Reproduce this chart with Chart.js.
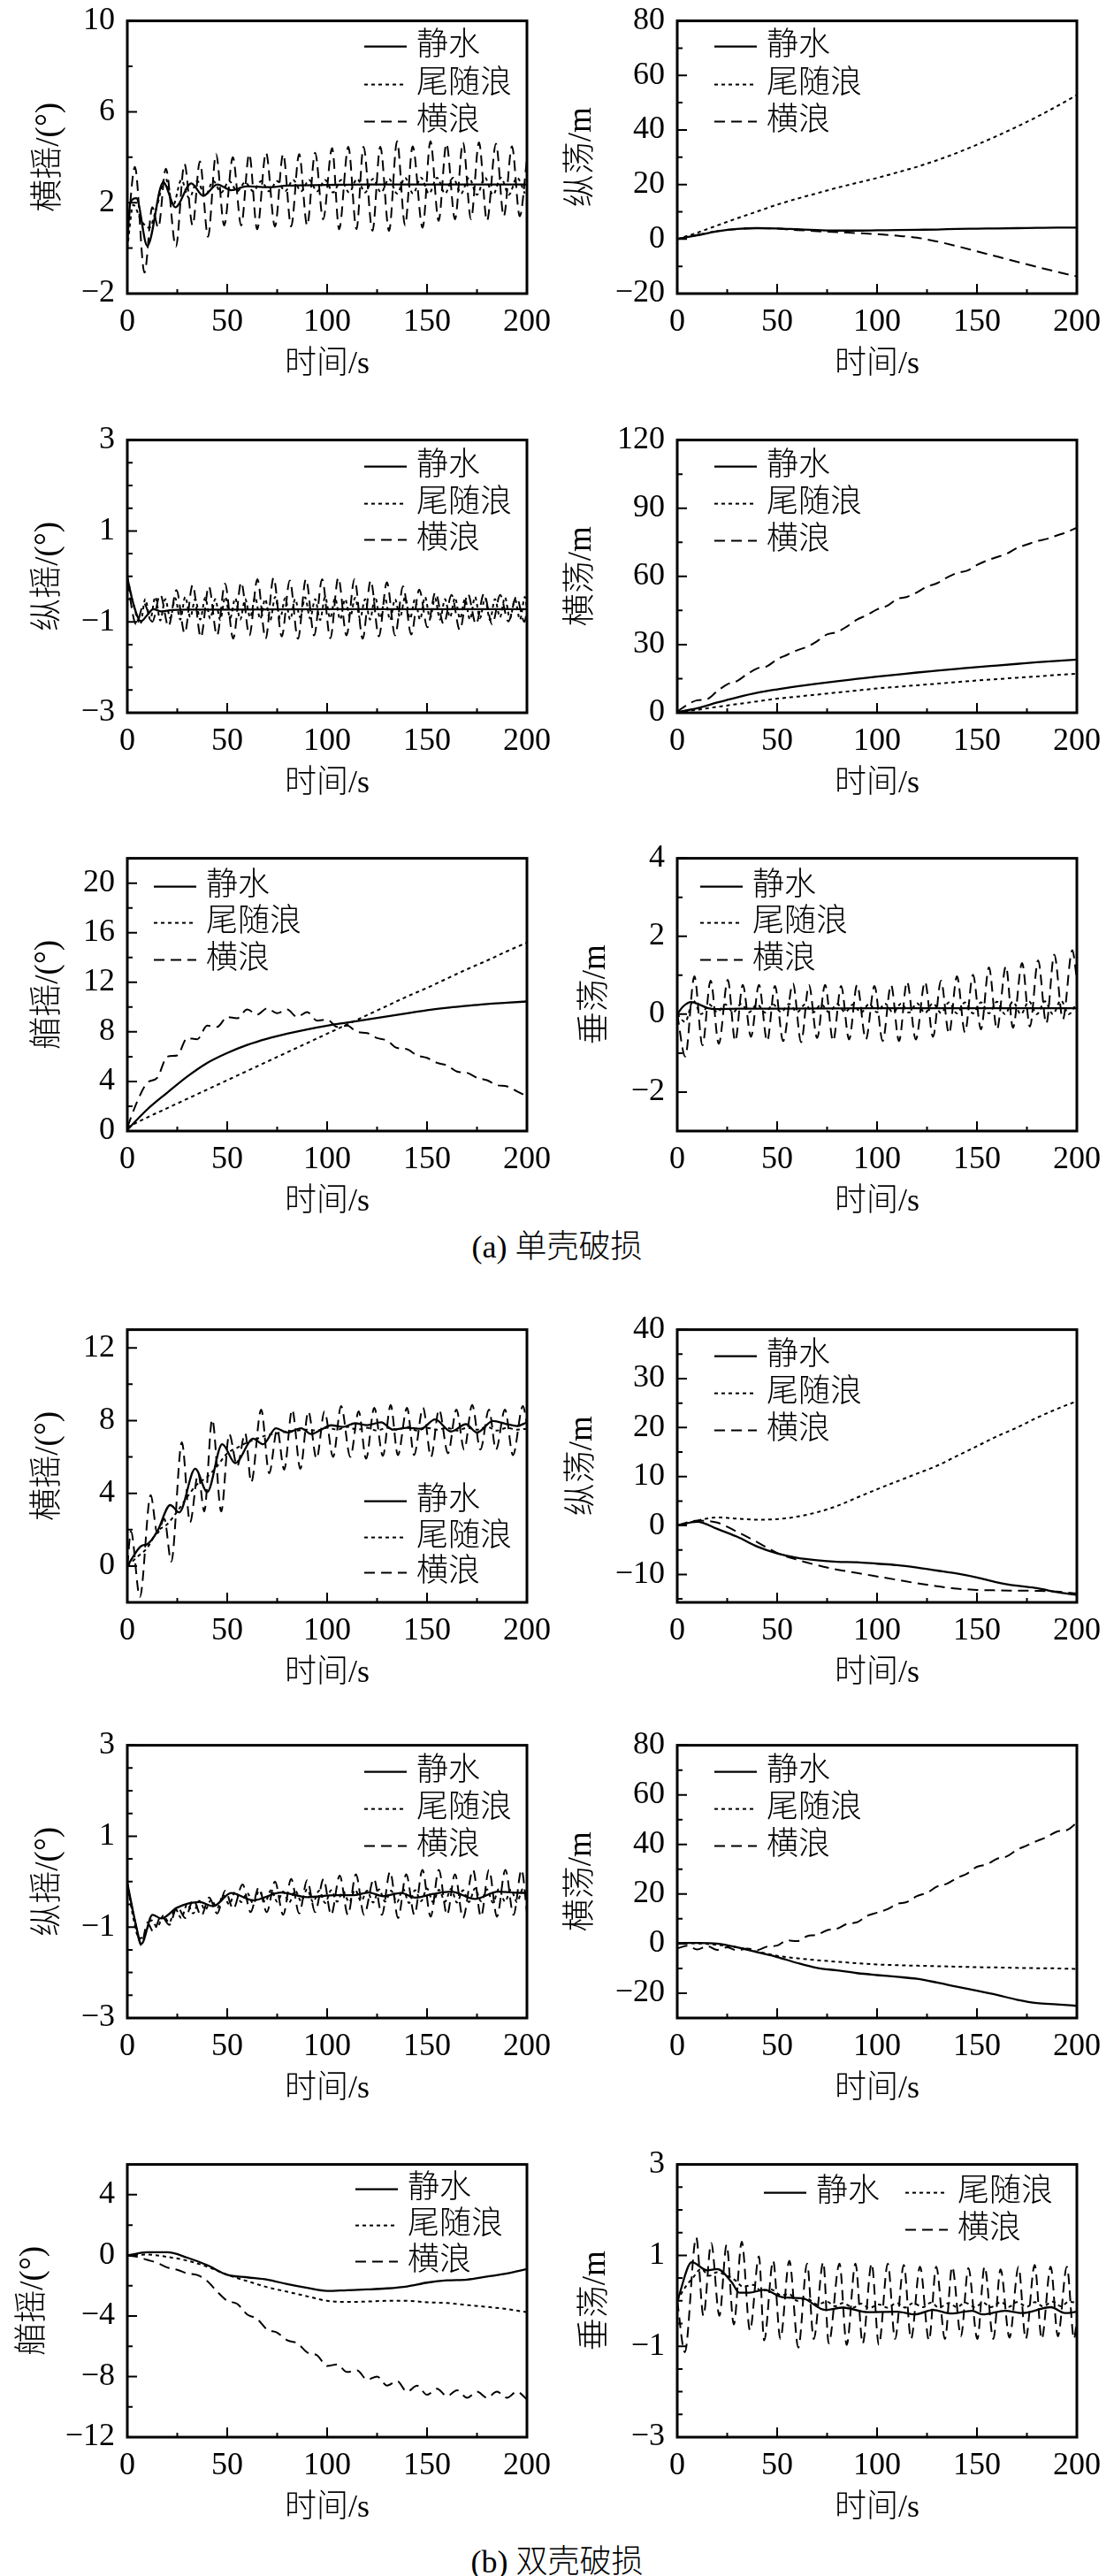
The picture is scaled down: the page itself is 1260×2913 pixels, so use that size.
<!DOCTYPE html>
<html lang="zh-CN">
<head>
<meta charset="utf-8">
<title>破损船舶运动时历曲线</title>
<script src="https://cdn.jsdelivr.net/npm/chart.js@4.4.1/dist/chart.umd.min.js"></script>
<style>
  html, body { margin: 0; padding: 0; background: #fff; }
  body { width: 1260px; height: 2913px; position: relative; overflow: hidden;
         font-family: 'Liberation Serif', 'Times New Roman', Tinos, 'DejaVu Serif', 'Noto Sans CJK SC', serif; color: #000; }
  canvas { position: absolute; }
  .cap { position: absolute; left: 0; width: 1260px; text-align: center;
         font-size: 36px; line-height: 44px; font-weight: 300; }
</style>
</head>
<body>
<div class="cap" style="top:1388px">(a) 单壳破损</div>
<div class="cap" style="top:2875px">(b) 双壳破损</div>
<script>
// ---------------- categories / ticks ----------------
const SERIES_NAMES = ['静水', '尾随浪', '横浪'];
const X_TITLE = '时间/s';
const TIME_TICKS = [0, 50, 100, 150, 200];
const TIME_MINOR = [25, 75, 125, 175];

const T10 = [0, 10, 20, 30, 40, 50, 60, 70, 80, 90, 100, 110, 120, 130, 140, 150, 160, 170, 180, 190, 200];
const T5 = [0, 5, 10, 15, 20, 25, 30, 35, 40, 45, 50, 55, 60, 65, 70, 75, 80, 85, 90, 95, 100,
  105, 110, 115, 120, 125, 130, 135, 140, 145, 150, 155, 160, 165, 170, 175, 180, 185, 190, 195, 200];
const T4 = [0, 4, 8, 12, 16, 20, 24, 28, 32, 36, 40, 44, 48, 52, 56, 60, 64, 68, 72, 76, 80, 84, 88, 92, 96,
  100, 104, 108, 112, 116, 120, 124, 128, 132, 136, 140, 144, 148, 152, 156, 160, 164, 168, 172, 176,
  180, 184, 188, 192, 196, 200];
const T3 = [0, 3, 6, 9, 12, 15, 18, 21, 24, 27, 30, 33, 36, 39, 42, 45, 48, 51, 54, 57, 60, 63, 66, 69,
  72, 75, 78, 81, 84, 87, 90, 93, 96, 99, 102, 105, 108, 111, 114, 117, 120, 123, 126, 129, 132, 135,
  138, 141, 144, 147, 150, 153, 156, 159, 162, 165, 168, 171, 174, 177, 180, 183, 186, 189, 192, 195, 198, 200];

const rollTicksA = [-2, 2, 6, 10];        const rollMinorA = [0, 4, 8];
const surgeTicksA = [-20, 0, 20, 40, 60, 80]; const surgeMinorA = [-10, 10, 30, 50, 70];
const pitchTicks = [-3, -1, 1, 3];        const pitchMinor = [-2.5, -2, -1.5, -0.5, 0, 0.5, 1.5, 2, 2.5];
const swayTicksA = [0, 30, 60, 90, 120];  const swayMinorA = [15, 45, 75, 105];
const yawTicksA = [0, 4, 8, 12, 16, 20];  const yawMinorA = [2, 6, 10, 14, 18];
const heaveTicksA = [-2, 0, 2, 4];        const heaveMinorA = [-1, 1, 3];
const rollTicksB = [0, 4, 8, 12];         const rollMinorB = [2, 6, 10];
const surgeTicksB = [-10, 0, 10, 20, 30, 40]; const surgeMinorB = [-15, -5, 5, 15, 25, 35];
const swayTicksB = [-20, 0, 20, 40, 60, 80];  const swayMinorB = [-10, 10, 30, 50, 70];
const yawTicksB = [-12, -8, -4, 0, 4];    const yawMinorB = [-10, -6, -2, 2];
const heaveTicksB = [-3, -1, 1, 3];       const heaveMinorB = [-2.5, -2, -1.5, -0.5, 0, 0.5, 1.5, 2, 2.5];

// ---------------- (a) 单壳破损 ----------------
// 横摇
const aRollCalmT = [0, 1.5, 4.5, 10, 18, 24, 32, 38, 45, 52, 60, 70, 80, 100, 120, 150, 200];
const aRollCalm  = [0.2, 2.0, 2.2, 0.1, 2.9, 1.8, 2.85, 2.3, 2.8, 2.55, 2.72, 2.68, 2.75, 2.78, 2.8, 2.8, 2.8];
const aRollFollowT = [0, 3, 7, 11, 15, 19, 23, 27, 31, 35, 39, 43, 47, 51, 55, 59, 63, 67, 71, 75, 79, 83, 87,
  91, 95, 99, 103, 107, 111, 115, 119, 123, 127, 131, 135, 139, 143, 147, 151, 155, 159, 163, 167, 171,
  175, 179, 183, 187, 191, 195, 199];
const aRollFollow = [0.0, 1.9, 1.2, 0.9, 1.9, 3.1, 1.9, 3.0, 2.2, 2.95, 2.3, 2.95, 2.45, 2.95, 2.5, 2.9,
  2.5, 2.95, 2.5, 2.95, 2.5, 3.0, 2.5, 3.0, 2.5, 3.0, 2.45, 3.0, 2.45, 3.05, 2.45, 3.05, 2.45, 3.05, 2.4,
  3.1, 2.4, 3.1, 2.4, 3.1, 2.4, 3.1, 2.4, 3.1, 2.35, 3.1, 2.35, 3.1, 2.35, 3.1, 2.4];
const aRollBeamT = [0, 3.8, 8.6, 12.5, 15.5, 19.3, 24.3, 28.6, 32.7, 36.3, 40.4, 44.4, 48.5, 52.8, 57, 61,
  65, 69.4, 73.9, 78, 82, 86, 90, 94, 98, 102.5, 106, 110.6, 114.7, 118.2, 122.7, 126.6, 131, 135, 139,
  142.8, 147.8, 151.7, 155.8, 159.7, 164, 168, 172, 176, 180, 184.5, 188.4, 192.5, 196.4, 200];
const aRollBeam = [0.5, 3.57, -1.08, 1.8, 0.9, 3.5, 0.06, 3.7, 1.0, 3.82, 0.5, 4.14, 1.0, 4.0, 1.0, 4.14,
  0.83, 4.2, 0.95, 4.14, 0.95, 4.14, 1.0, 4.2, 1.27, 4.4, 0.83, 4.46, 0.83, 4.46, 0.76, 4.46, 0.76, 4.7,
  1.0, 4.48, 0.9, 4.7, 1.2, 4.6, 1.27, 4.65, 1.27, 4.65, 1.2, 4.6, 1.4, 4.48, 1.4, 3.9];

// 纵荡
const aSurgeCalm   = [0, 1.4, 2.8, 3.7, 4.0, 3.9, 3.6, 3.3, 3.1, 3.1, 3.2, 3.3, 3.4, 3.5, 3.7, 3.8, 3.9, 4.0, 4.1, 4.2, 4.2];
const aSurgeFollow = [0, 2.3, 5.0, 7.6, 10.1, 12.6, 14.8, 16.8, 18.8, 20.6, 22.4, 24.4, 26.5, 28.9, 31.6, 34.6, 37.8, 41.2, 44.8, 48.7, 52.8];
const aSurgeBeam   = [0, 1.5, 2.9, 3.7, 4.0, 3.8, 3.3, 2.9, 2.5, 2.2, 1.8, 1.2, 0.5, -0.9, -2.6, -4.5, -6.4, -8.3, -10.2, -12.0, -13.7];

// 纵摇
const aPitchCalmT = [0, 3, 6.8, 10, 13, 17, 22, 30, 50, 100, 150, 200];
const aPitchCalm  = [-0.03, -0.6, -0.99, -0.85, -0.72, -0.77, -0.74, -0.73, -0.73, -0.72, -0.72, -0.72];
const aPitchFollowT = [0, 3, 6.5, 9, 11.5, 14, 16.5, 19, 21.5, 24, 26.5, 29, 31.5, 34, 36.5, 39, 41.5, 44,
  46.5, 49, 51.5, 54, 56.5, 59, 61.5, 64, 66.5, 69, 71.5, 74, 76.5, 79, 81.5, 84, 86.5, 89, 91.5, 94, 96.5,
  99, 101.5, 104, 106.5, 109, 111.5, 114, 116.5, 119, 121.5, 124, 126.5, 129, 131.5, 134, 136.5, 139,
  141.5, 144, 146.5, 149, 151.5, 154, 156.5, 159, 161.5, 164, 166.5, 169, 171.5, 174, 176.5, 179, 181.5,
  184, 186.5, 189, 191.5, 194, 196.5, 199, 200];
const aPitchFollow = [-0.03, -0.6, -1.05,
  -0.5, -0.95, -0.45, -0.97, -0.5, -0.92, -0.48, -0.95, -0.45, -0.9,
  -0.5, -0.95, -0.47, -0.93, -0.5, -0.96, -0.45, -0.92, -0.48, -0.95,
  -0.5, -0.9, -0.46, -0.94, -0.5, -0.97, -0.45, -0.92, -0.48, -0.95,
  -0.5, -0.9, -0.46, -0.93, -0.5, -0.96, -0.45, -0.92, -0.48, -0.95,
  -0.5, -0.9, -0.47, -0.93, -0.5, -0.95, -0.45, -0.92, -0.48, -0.96,
  -0.5, -0.9, -0.46, -0.93, -0.5, -0.95, -0.45, -0.92, -0.48, -0.95,
  -0.5, -0.9, -0.47, -0.93, -0.5, -0.95, -0.45, -0.92, -0.48, -0.96,
  -0.5, -0.9, -0.46, -0.93, -0.5, -0.95, -0.45,
  -0.7];
const aPitchBeamT = [0, 4.4, 8.4, 12.5, 16.5, 20.6, 24.6, 28.7, 32.7, 36.8, 40.8, 44.9, 48.9, 53, 57, 61.1,
  65.1, 69.2, 73.2, 77.3, 81.3, 85.4, 89.4, 93.5, 97.5, 101.6, 105.6, 109.7, 113.7, 117.8, 121.8, 125.9,
  129.9, 134, 138, 142.1, 146.1, 150.2, 154.2, 158.3, 162.3, 166.4, 170.4, 174.5, 178.5, 182.6, 186.6,
  190.7, 194.7, 198.8, 200];
const aPitchBeam = [-0.1, -1.05, -0.6, -1.0, -0.4, -1.1, -0.3, -1.25, -0.19, -1.34, -0.22, -1.3, -0.16,
  -1.37, -0.13, -1.3, -0.06, -1.37, -0.03, -1.32, -0.09, -1.37, -0.06, -1.3, -0.06, -1.36, -0.03, -1.3,
  -0.06, -1.37, -0.09, -1.32, -0.13, -1.3, -0.22, -1.28, -0.29, -1.12, -0.35, -1.05, -0.41, -1.18, -0.38,
  -1.05, -0.38, -1.06, -0.41, -0.99, -0.45, -1.0, -0.75];

// 横荡
const aSwayCalm   = [0.3, 2.0, 4.5, 6.8, 8.8, 10.3, 11.6, 12.8, 13.9, 14.9, 15.9, 16.8, 17.7, 18.5, 19.3, 20.1, 20.8, 21.5, 22.2, 22.8, 23.4];
const aSwayFollow = [0.3, 1.3, 2.6, 3.8, 5.0, 6.2, 7.1, 8.0, 8.9, 9.8, 10.7, 11.4, 12.1, 12.8, 13.5, 14.2, 14.8, 15.4, 16.0, 16.6, 17.2];
const aSwayBeam = [0.5, 3.5, 5.5, 6.0, 9.5, 12.5, 14.0, 17.0, 19.5, 20.5, 23.5, 25.5, 27.5, 29.0, 31.5, 34.5,
  35.5, 38.0, 41.0, 43.0, 45.5, 47.0, 50.0, 51.0, 53.0, 55.5, 57.0, 59.5, 61.5, 62.5, 65.0, 67.0, 68.5,
  70.0, 72.5, 74.0, 75.5, 76.5, 78.0, 79.5, 81.5];

// 艏摇
const aYawCalm   = [0.1, 1.75, 3.1, 4.4, 5.5, 6.3, 6.95, 7.45, 7.85, 8.2, 8.5, 8.75, 9.0, 9.25, 9.5, 9.75, 9.95, 10.1, 10.25, 10.35, 10.45];
const aYawFollow = [0.3, 1.1, 1.85, 2.6, 3.35, 4.1, 4.85, 5.6, 6.35, 7.1, 7.85, 8.6, 9.35, 10.1, 10.85, 11.55, 12.3, 13.05, 13.75, 14.5, 15.2];
const aYawBeam = [0.3, 2.4, 3.9, 4.3, 6.0, 6.1, 7.5, 7.4, 8.5, 8.4, 9.2, 9.1, 9.8, 9.4, 9.9, 9.5, 9.8, 9.2,
  9.6, 8.9, 9.0, 8.4, 8.5, 8.0, 7.9, 7.5, 7.3, 6.7, 6.6, 6.1, 5.9, 5.5, 5.3, 4.8, 4.7, 4.3, 4.1, 3.7, 3.6, 3.2, 2.8];

// 垂荡
const aHeaveCalmT = [0, 3, 7, 11, 15, 20, 30, 50, 100, 150, 200];
const aHeaveCalm  = [0, 0.2, 0.31, 0.25, 0.16, 0.13, 0.14, 0.14, 0.15, 0.15, 0.15];
const aHeaveFollow = [0, -0.2, 0.35, 0.0, 0.25, 0.05, 0.25, 0.05, 0.26, 0.05,
  0.25, 0.04, 0.25, 0.05, 0.26, 0.05, 0.25, 0.04, 0.25, 0.05,
  0.26, 0.05, 0.25, 0.04, 0.26, 0.05, 0.27, 0.04, 0.27, 0.04,
  0.28, 0.03, 0.28, 0.03, 0.3, 0.02, 0.3, 0.02, 0.3, 0.02,
  0.32, 0.0, 0.32, 0.0, 0.33, 0.0, 0.33, 0.0, 0.35, 0.0, 0.3];
const aHeaveBeamT = [0, 4, 8.6, 12.6, 16.7, 20.8, 25.3, 29, 32.8, 36.9, 40.9, 45, 48.9, 53, 57.9, 62, 65.9,
  70, 74, 78, 82, 86, 90, 94.4, 98.7, 102.8, 107, 111, 115, 119.4, 124, 128, 132, 136, 140, 144, 148, 152,
  156, 160, 164.5, 168, 172.6, 176.5, 180.6, 184.7, 188.7, 193, 197.7, 200];
const aHeaveBeam = [0, -1.09, 0.97, -0.8, 0.86, -0.76, 0.88, -0.69, 0.75, -0.58, 0.75, -0.69, 0.72, -0.69,
  0.79, -0.72, 0.75, -0.61, 0.75, -0.69, 0.72, -0.65, 0.75, -0.65, 0.72, -0.69, 0.75, -0.69, 0.83, -0.65,
  0.83, -0.58, 0.86, -0.5, 0.97, -0.47, 1.01, -0.39, 1.2, -0.39, 1.23, -0.35, 1.31, -0.32, 1.38, -0.24,
  1.53, -0.13, 1.64, 0.9];

// ---------------- (b) 双壳破损 ----------------
// 横摇
const bRollCalmT = [0, 7, 10, 15, 21.5, 26, 34, 40, 47.5, 54, 63, 68, 74.4, 80, 87, 92, 97, 102, 108, 114,
  120, 127, 133, 140, 147, 154, 162, 169.5, 175, 183, 190, 195, 200];
const bRollCalm = [0, 1.1, 1.2, 1.9, 3.35, 2.95, 5.35, 4.07, 6.7, 5.66, 7.0, 6.7, 7.58, 7.34, 7.58, 7.26,
  7.5, 7.74, 7.65, 7.85, 7.75, 7.9, 7.5, 7.6, 7.55, 8.06, 7.4, 7.8, 7.34, 7.98, 7.8, 7.7, 7.9];
const bRollFollow = [0, 0.5, 1.0, 1.9, 2.3, 3.0, 3.8, 4.5, 4.9, 5.5, 6.2, 6.5, 6.8, 7.0, 7.2, 7.3, 7.4, 7.45,
  7.5, 7.45, 7.6, 7.5, 7.65, 7.5, 7.6, 7.45, 7.6, 7.5, 7.65, 7.45, 7.6, 7.5, 7.6, 7.45, 7.6, 7.5, 7.65,
  7.45, 7.6, 7.5, 7.55];
const bRollBeamT = [0, 1.8, 6.3, 11.7, 15, 18.5, 22, 27.3, 31.4, 35.5, 38.5, 42.5, 47, 51, 55, 59, 62, 67,
  71, 75, 78.5, 82.5, 86.6, 90.6, 94.7, 98.7, 103, 107, 111.6, 115.8, 119.5, 123.6, 127.9, 131.8, 135.4,
  140, 143.5, 148, 152, 156, 160.5, 164.7, 168.6, 172.6, 176.7, 181, 184.5, 189, 193, 198, 200];
const bRollBeam = [0, 1.9, -1.7, 3.9, 1.8, 2.6, 0.24, 6.8, 2.4, 5.1, 3.0, 8.06, 3.0, 7.26, 5.5, 7.3, 4.6,
  8.6, 5.1, 7.5, 5.3, 8.6, 5.35, 8.5, 5.9, 8.5, 6.0, 8.8, 6.0, 8.5, 5.9, 8.7, 6.06, 8.86, 6.1, 8.7, 6.1,
  8.7, 6.0, 8.6, 6.2, 8.6, 6.4, 8.86, 6.4, 8.6, 6.4, 8.6, 6.1, 8.8, 7.8];

// 纵荡
const bSurgeCalm   = [0, 0.75, -0.7, -2.3, -4.3, -5.7, -6.6, -7.1, -7.4, -7.5, -7.8, -8.1, -8.6, -9.2, -9.8, -10.6, -11.6, -12.3, -12.8, -13.6, -14.2];
const bSurgeFollow = [0, 1.0, 1.65, 1.4, 1.2, 1.3, 1.8, 2.7, 4.0, 5.7, 7.4, 9.0, 10.6, 12.2, 14.2, 16.2, 18.2, 20.0, 22.0, 23.8, 25.4];
const bSurgeBeam   = [0, 1.0, 0.6, -1.3, -3.4, -5.6, -7.0, -8.1, -9.0, -9.7, -10.4, -11.1, -11.8, -12.4, -12.9, -13.15, -13.25, -13.3, -13.35, -13.5, -13.9];

// 纵摇
const bPitchCalmT = [0, 4.5, 7, 12.6, 17, 25, 36, 43, 52, 63, 77, 90, 104.5, 113, 120.7, 128, 137, 144, 153,
  162, 174, 185.6, 193, 200];
const bPitchCalm = [-0.03, -0.99, -1.37, -0.73, -0.81, -0.57, -0.45, -0.54, -0.25, -0.41, -0.24, -0.34,
  -0.30, -0.30, -0.24, -0.32, -0.25, -0.35, -0.27, -0.22, -0.38, -0.22, -0.24, -0.25];
const bPitchFollow = [-0.03, -0.8, -1.25, -1.15, -0.85, -1.0, -0.75, -0.9, -0.6, -0.8, -0.5, -0.7, -0.42,
  -0.62, -0.4, -0.58, -0.3, -0.5, -0.22, -0.45, -0.25, -0.48,
  -0.2, -0.45, -0.18, -0.44, -0.22, -0.46, -0.2, -0.43, -0.17, -0.45,
  -0.2, -0.47, -0.19, -0.44, -0.21, -0.45, -0.18, -0.43, -0.2, -0.46,
  -0.17, -0.44, -0.2, -0.45, -0.16, -0.47, -0.19, -0.43, -0.15, -0.45,
  -0.18, -0.44, -0.16, -0.46, -0.19, -0.45, -0.15, -0.43, -0.17, -0.46,
  -0.16, -0.44, -0.18, -0.45, -0.16,
  -0.3];
const bPitchBeamT = [0, 3.5, 7, 10, 13, 17, 21, 25, 29, 33, 37, 41, 45, 49, 53, 57.7, 61.7, 65.8, 69.8, 73.9,
  78, 82, 86, 90, 94, 98.2, 102, 106.3, 110.4, 114.4, 118.5, 123.4, 127.4, 131.5, 135.5, 139.6, 143.7,
  147.7, 151.8, 155.9, 160, 164, 168, 173, 177, 181, 185, 189.2, 193.3, 197.3, 200];
const bPitchBeam = [-0.1, -0.8, -1.4, -0.9, -1.1, -0.75, -0.95, -0.55, -0.8, -0.4, -0.75, -0.35, -0.7, -0.2,
  -0.6, -0.06, -0.67, -0.13, -0.67, 0.0, -0.73, 0.06, -0.7, 0.03, -0.67, 0.06, -0.73, 0.13, -0.73, 0.16,
  -0.73, 0.06, -0.73, 0.22, -0.8, 0.16, -0.73, 0.26, -0.77, 0.26, -0.73, 0.16, -0.8, 0.26, -0.77, 0.26,
  -0.77, 0.26, -0.73, 0.26, -0.67];

// 横荡
const bSwayCalm   = [0.2, 0.3, 0.0, -1.5, -3.5, -5.4, -7.8, -9.8, -10.8, -11.9, -12.7, -13.4, -14.2, -15.7, -17.4, -19.0, -20.7, -22.6, -24.0, -24.5, -25.1];
const bSwayFollow = [0.2, 0.1, -0.5, -1.5, -3.2, -4.9, -5.9, -6.7, -7.3, -7.9, -8.4, -8.7, -8.9, -9.1, -9.3, -9.5, -9.6, -9.8, -9.9, -10.0, -10.2];
const bSwayBeam = [-2.0, -0.8, -2.4, -1.0, -2.5, -1.5, -2.8, -2.0, -2.6, -1.2, -0.8, 1.3, 1.0, 3.0, 3.6, 5.4,
  6.0, 8.0, 8.6, 11.2, 12.5, 13.8, 16.0, 16.8, 19.2, 20.5, 23.0, 24.2, 26.5, 28.2, 31.0, 32.0, 34.2, 35.2,
  37.8, 39.6, 41.4, 43.0, 45.2, 45.8, 48.8];

// 艏摇
const bYawCalm   = [0, 0.2, 0.2, -0.15, -0.65, -1.28, -1.45, -1.6, -1.9, -2.15, -2.35, -2.3, -2.25, -2.18, -2.05, -1.8, -1.65, -1.6, -1.4, -1.2, -0.9];
const bYawFollow = [0, 0.05, -0.1, -0.35, -0.75, -1.28, -1.7, -2.1, -2.4, -2.7, -3.0, -3.07, -3.05, -3.0, -3.0, -3.1, -3.15, -3.28, -3.4, -3.55, -3.75];
const bYawBeam = [0, -0.1, -0.3, -0.5, -0.8, -0.95, -1.2, -1.3, -1.7, -2.4, -3.0, -3.2, -3.9, -4.2, -4.9, -5.1,
  -5.6, -5.8, -6.4, -6.6, -7.3, -7.2, -7.7, -7.6, -8.2, -8.0, -8.6, -8.3, -9.0, -8.6, -9.2, -8.8, -9.3,
  -8.9, -9.4, -9.0, -9.4, -9.0, -9.4, -9.0, -9.5];

// 垂荡
const bHeaveCalmT = [0, 7.3, 15, 20, 27.4, 31, 36, 43.5, 52.5, 63, 74, 83, 95.5, 110, 119, 128, 137, 147.5,
  153, 164, 172.6, 187, 194, 200];
const bHeaveCalm = [-0.01, 0.85, 0.67, 0.7, 0.4, 0.18, 0.18, 0.24, 0.08, 0.05, -0.2, -0.15, -0.25, -0.24,
  -0.3, -0.2, -0.28, -0.22, -0.3, -0.22, -0.27, -0.14, -0.27, -0.24];
const bHeaveFollowT = [0, 4, 7.7, 12, 16, 20, 25, 29, 33, 38, 42, 47, 52, 56, 60, 65, 70, 75, 79, 83, 88, 92,
  96, 101, 105, 110, 114, 118, 123, 127, 131, 136, 140, 144, 149, 153, 157, 162, 166, 170, 175, 179, 183,
  188, 192, 196, 200];
const bHeaveFollow = [0, 0.3, 0.5, 0.7, 0.55, 0.63, 0.55, 0.45, 0.31, 0.35, 0.22, 0.25, 0.12, 0.15, 0.0,
  0.05, -0.08, -0.02, -0.12, -0.05, -0.15, -0.06, -0.16, -0.08, -0.15, -0.05, -0.15, -0.05, -0.14, -0.04,
  -0.15, -0.05, -0.14, -0.04, -0.14, -0.04, -0.14, -0.03, -0.13, -0.03, -0.13, -0.03, -0.12, -0.02, -0.12,
  -0.02, -0.04];
const bHeaveBeamT = [0, 3.8, 9.5, 13.1, 17, 21.1, 24.7, 28.3, 32.3, 36.4, 40.9, 43.5, 48, 51.6, 56.1, 60.6,
  65, 68.3, 73.1, 75.8, 81.2, 84.8, 89.2, 92.8, 97.3, 100.9, 105.4, 109, 113.4, 117, 121.5, 126, 129.6,
  134, 137.6, 142, 145.7, 150.2, 153.8, 158.2, 161.8, 166.3, 170.8, 174.4, 178.9, 182.4, 186.9, 190.5,
  195, 198.6, 200];
const bHeaveBeam = [0, -1.13, 1.39, -0.33, 1.27, -0.33, 1.23, -0.52, 1.3, -0.65, 0.98, -0.87, 0.88, -0.84,
  0.88, -1.03, 0.82, -0.84, 0.85, -0.94, 0.82, -0.97, 0.82, -0.94, 0.82, -0.97, 0.82, -0.84, 0.79, -0.84,
  0.75, -0.87, 0.75, -0.84, 0.75, -0.78, 0.72, -0.84, 0.75, -0.84, 0.69, -0.81, 0.75, -0.84, 0.79, -0.84,
  0.75, -0.78, 0.75, -0.84, -0.4];

// ---------------- styling & layout ----------------
const FONT = "'Liberation Serif', 'Times New Roman', Tinos, 'DejaVu Serif', 'Noto Sans CJK SC', serif";
const LINE_STYLES = [
  { width: 2.3, dash: [] },      // 静水
  { width: 2.0, dash: [4, 4] },  // 尾随浪
  { width: 2.0, dash: [12, 7] }  // 横浪
];
const PLOT_W = 452, PLOT_H = 314;
const AX_W = 150, AX_H = 105, PAD_T = 30, PAD_R = 40;

function pts(t, v) {
  const n = Math.min(t.length, v.length);
  const out = [];
  for (let i = 0; i < n; i++) out.push({ x: t[i], y: v[i] });
  return out;
}
const L3 = (dx, a, b, c) => [[dx, a], [dx, b], [dx, c]];

const PANELS = [
  { left: 144, top: 18, yMin: -2, yMax: 10, ticks: rollTicksA, minor: rollMinorA, title: '横摇/(°)', tOff: -88,
    legend: L3(268, 29, 72, 114),
    series: [[aRollCalmT, aRollCalm], [aRollFollowT, aRollFollow], [aRollBeamT, aRollBeam]] },
  { left: 766, top: 18, yMin: -20, yMax: 80, ticks: surgeTicksA, minor: surgeMinorA, title: '纵荡/m', tOff: -108,
    legend: L3(42, 29, 72, 114),
    series: [[T10, aSurgeCalm], [T10, aSurgeFollow], [T10, aSurgeBeam]] },
  { left: 144, top: 492, yMin: -3, yMax: 3, ticks: pitchTicks, minor: pitchMinor, title: '纵摇/(°)', tOff: -89,
    legend: L3(268, 30, 72, 113),
    series: [[aPitchCalmT, aPitchCalm], [aPitchFollowT, aPitchFollow], [aPitchBeamT, aPitchBeam]] },
  { left: 766, top: 492, yMin: 0, yMax: 120, ticks: swayTicksA, minor: swayMinorA, title: '横荡/m', tOff: -108,
    legend: L3(42, 30, 72, 114),
    series: [[T10, aSwayCalm], [T10, aSwayFollow], [T5, aSwayBeam]] },
  { left: 144, top: 965, yMin: 0, yMax: 22, ticks: yawTicksA, minor: yawMinorA, title: '艏摇/(°)', tOff: -89,
    legend: L3(30, 32, 73, 115),
    series: [[T10, aYawCalm], [T10, aYawFollow], [T5, aYawBeam]] },
  { left: 766, top: 965, yMin: -3, yMax: 4, ticks: heaveTicksA, minor: heaveMinorA, title: '垂荡/m', tOff: -92,
    legend: L3(26, 32, 73, 115),
    series: [[aHeaveCalmT, aHeaveCalm], [T4, aHeaveFollow], [aHeaveBeamT, aHeaveBeam]] },
  { left: 144, top: 1498, yMin: -2, yMax: 13, ticks: rollTicksB, minor: rollMinorB, title: '横摇/(°)', tOff: -89,
    legend: L3(268, 194, 235, 275),
    series: [[bRollCalmT, bRollCalm], [T5, bRollFollow], [bRollBeamT, bRollBeam]] },
  { left: 766, top: 1498, yMin: -15.7, yMax: 40, ticks: surgeTicksB, minor: surgeMinorB, title: '纵荡/m', tOff: -107,
    legend: L3(42, 30, 72, 114),
    series: [[T10, bSurgeCalm], [T10, bSurgeFollow], [T10, bSurgeBeam]] },
  { left: 144, top: 1968, yMin: -3, yMax: 3, ticks: pitchTicks, minor: pitchMinor, title: '纵摇/(°)', tOff: -89,
    legend: L3(268, 30, 72, 114),
    series: [[bPitchCalmT, bPitchCalm], [T3, bPitchFollow], [bPitchBeamT, bPitchBeam]] },
  { left: 766, top: 1968, yMin: -30, yMax: 80, ticks: swayTicksB, minor: swayMinorB, title: '横荡/m', tOff: -108,
    legend: L3(42, 30, 72, 114),
    series: [[T10, bSwayCalm], [T10, bSwayFollow], [T5, bSwayBeam]] },
  { left: 144, top: 2442, yMin: -12, yMax: 6, ticks: yawTicksB, minor: yawMinorB, title: '艏摇/(°)', tOff: -106,
    legend: L3(258, 28, 69, 110),
    series: [[T10, bYawCalm], [T10, bYawFollow], [T5, bYawBeam]] },
  { left: 766, top: 2442, yMin: -3, yMax: 3, ticks: heaveTicksB, minor: heaveMinorB, title: '垂荡/m', tOff: -92,
    legend: [[98, 32], [258, 32], [258, 74]],
    series: [[bHeaveCalmT, bHeaveCalm], [bHeaveFollowT, bHeaveFollow], [bHeaveBeamT, bHeaveBeam]] }
];

const fmt = v => String(v).replace('-', '\u2212');

function framePlugin(p) {
  return {
    id: 'frameTicksLegend',
    afterDatasetsDraw(chart) {
      const { ctx, chartArea: a, scales: { x, y } } = chart;
      ctx.save();
      ctx.strokeStyle = '#000';
      ctx.fillStyle = '#000';
      ctx.setLineDash([]);
      ctx.lineWidth = 2;
      ctx.beginPath();
      for (const v of TIME_TICKS) { const px = x.getPixelForValue(v); ctx.moveTo(px, a.bottom); ctx.lineTo(px, a.bottom - 11); }
      for (const v of TIME_MINOR) { const px = x.getPixelForValue(v); ctx.moveTo(px, a.bottom); ctx.lineTo(px, a.bottom - 5); }
      for (const v of p.ticks) { const py = y.getPixelForValue(v); ctx.moveTo(a.left, py); ctx.lineTo(a.left + 11, py); }
      for (const v of p.minor) { const py = y.getPixelForValue(v); ctx.moveTo(a.left, py); ctx.lineTo(a.left + 6, py); }
      ctx.stroke();
      ctx.lineWidth = 3;
      ctx.strokeRect(a.left, a.top, a.right - a.left, a.bottom - a.top);
      // legend
      ctx.font = '300 36px ' + FONT;
      ctx.textBaseline = 'middle';
      ctx.textAlign = 'left';
      chart.data.datasets.forEach((ds, i) => {
        const [dx, dy] = p.legend[i];
        const lx = a.left + dx, ly = a.top + dy;
        ctx.lineWidth = ds.borderWidth;
        ctx.setLineDash(ds.borderDash);
        ctx.beginPath();
        ctx.moveTo(lx, ly);
        ctx.lineTo(lx + 48, ly);
        ctx.stroke();
        ctx.setLineDash([]);
        ctx.fillText(ds.label, lx + 59, ly);
      });
      ctx.restore();
    }
  };
}

PANELS.forEach((p) => {
  const cv = document.createElement('canvas');
  const W = AX_W + PLOT_W + PAD_R, H = PAD_T + PLOT_H + AX_H;
  cv.width = W; cv.height = H;
  cv.style.left = (p.left - AX_W) + 'px';
  cv.style.top = (p.top - PAD_T) + 'px';
  cv.style.width = W + 'px'; cv.style.height = H + 'px';
  document.body.appendChild(cv);

  const datasets = p.series.map((s, i) => ({
    label: SERIES_NAMES[i],
    data: pts(s[0], s[1]),
    borderColor: '#000',
    backgroundColor: '#000',
    borderWidth: LINE_STYLES[i].width,
    borderDash: LINE_STYLES[i].dash,
    pointRadius: 0,
    fill: false,
    cubicInterpolationMode: 'monotone'
  }));

  const titleSize = 37;
  const titlePad = AX_W + p.tOff - (titleSize * 1.2) / 2;

  new Chart(cv, {
    type: 'line',
    data: { datasets },
    options: {
      responsive: false,
      animation: false,
      devicePixelRatio: 1,
      layout: { padding: { left: 0, top: PAD_T, right: PAD_R, bottom: 0 } },
      plugins: { legend: { display: false }, tooltip: { enabled: false } },
      scales: {
        x: {
          type: 'linear', min: 0, max: 200,
          grid: { display: false, drawTicks: false },
          border: { display: false },
          afterBuildTicks: s => { s.ticks = TIME_TICKS.map(v => ({ value: v })); },
          afterFit: s => { s.height = AX_H; },
          ticks: { autoSkip: false, maxRotation: 0, padding: 11, color: '#000',
                   font: { family: FONT, size: 36 }, callback: v => fmt(v) },
          title: { display: true, text: X_TITLE, color: '#000',
                   font: { family: FONT, size: 36, weight: '300' }, padding: { top: 0, bottom: 3 } }
        },
        y: {
          type: 'linear', min: p.yMin, max: p.yMax,
          grid: { display: false, drawTicks: false },
          border: { display: false },
          afterBuildTicks: s => { s.ticks = p.ticks.map(v => ({ value: v })); },
          afterFit: s => { s.width = AX_W; },
          ticks: { autoSkip: false, padding: 14, color: '#000',
                   font: { family: FONT, size: 36 }, callback: v => fmt(v) },
          title: { display: true, text: p.title, color: '#000',
                   font: { family: FONT, size: titleSize, weight: '300' }, padding: { top: titlePad, bottom: 0 } }
        }
      }
    },
    plugins: [framePlugin(p)]
  });
});
</script>
</body>
</html>
